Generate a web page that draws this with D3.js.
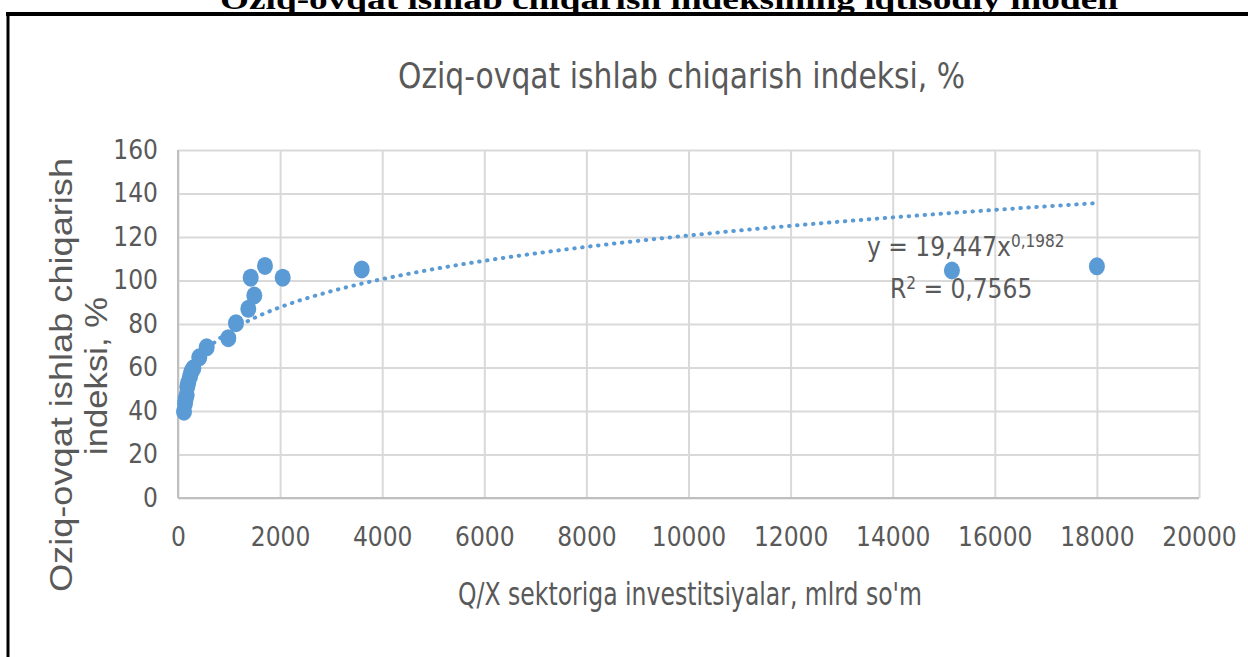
<!DOCTYPE html>
<html>
<head>
<meta charset="utf-8">
<script src="https://cdn.jsdelivr.net/npm/d3@7"></script>
<style>
  body { margin: 0; background: #fff; }
  text { font-family: "Liberation Sans Narrow", "DejaVu Sans Condensed", "Liberation Sans", sans-serif; fill: #595959; }
</style>
</head>
<body>
<div id="chart"></div>
<script>
// Data
const investments = [118, 137, 150, 170, 182, 200, 235, 260, 300, 417, 562, 985, 1136, 1377, 1495, 1424, 1704, 2051, 3598, 15160, 18000];
const foodIndex = [39.7, 43.5, 45.5, 47.4, 51.2, 53, 55.8, 58, 59.6, 64.7, 69.3, 73.5, 80.4, 87.0, 93.1, 101.3, 106.7, 101.3, 105.1, 104.6, 106.5];
const xTicks = [0, 2000, 4000, 6000, 8000, 10000, 12000, 14000, 16000, 18000, 20000];
const yTicks = [0, 20, 40, 60, 80, 100, 120, 140, 160];
// power trendline y = a * x^b
const trendA = 19.447;
const trendB = 0.1982;
const trendR2 = "0,7565";

const points = investments.map((x, i) => ({ x: x, y: foodIndex[i] }));

const svg = d3.select("#chart")
  .append("svg")
  .attr("width", 1248)
  .attr("height", 657);

const margin = { top: 150, left: 178, right: 49, bottom: 159 };
const width = 1248 - margin.left - margin.right;
const height = 657 - margin.top - margin.bottom;

// page header (cut off at the top) and black frame
svg.append("text")
  .attr("x", 220)
  .attr("y", 9)
  .attr("textLength", 898)
  .attr("lengthAdjust", "spacingAndGlyphs")
  .style("font-family", "'Liberation Serif', serif")
  .style("font-weight", "bold")
  .style("font-size", "30px")
  .style("fill", "#000")
  .text("Oziq-ovqat ishlab chiqarish indeksining iqtisodiy modeli");

svg.append("line")
  .attr("x1", 6).attr("x2", 1248)
  .attr("y1", 14).attr("y2", 14)
  .attr("stroke", "#000").attr("stroke-width", 4);
svg.append("line")
  .attr("x1", 8).attr("x2", 8)
  .attr("y1", 12).attr("y2", 657)
  .attr("stroke", "#000").attr("stroke-width", 3);

const chart = svg.append("g").attr("transform", `translate(${margin.left},${margin.top})`);

const xScale = d3.scaleLinear().domain([0, 20000]).range([0, width]);
const yScale = d3.scaleLinear().domain([0, 160]).range([height, 0]);

// gridlines
chart.append("g")
  .attr("class", "grid-y")
  .call(d3.axisLeft(yScale).tickValues(yTicks).tickSize(-width).tickFormat(""))
  .call(g => g.select(".domain").remove())
  .call(g => g.selectAll("line").attr("stroke", "#d9d9d9").attr("stroke-width", 2));
chart.append("g")
  .attr("class", "grid-x")
  .attr("transform", `translate(0,${height})`)
  .call(d3.axisBottom(xScale).tickValues(xTicks).tickSize(-height).tickFormat(""))
  .call(g => g.select(".domain").remove())
  .call(g => g.selectAll("line").attr("stroke", "#d9d9d9").attr("stroke-width", 2));

// axis lines
chart.append("line")
  .attr("x1", 0).attr("x2", width)
  .attr("y1", height).attr("y2", height)
  .attr("stroke", "#bfbfbf").attr("stroke-width", 2);
chart.append("line")
  .attr("x1", 0).attr("x2", 0)
  .attr("y1", 0).attr("y2", height)
  .attr("stroke", "#bfbfbf").attr("stroke-width", 2);

// tick labels
chart.append("g")
  .attr("class", "y-axis")
  .call(d3.axisLeft(yScale).tickValues(yTicks).tickSize(0).tickPadding(20).tickFormat(d3.format("d")))
  .call(g => g.select(".domain").remove())
  .call(g => g.selectAll("text").style("font-size", "26px").style("fill", "#595959"));
chart.append("g")
  .attr("class", "x-axis")
  .attr("transform", `translate(0,${height})`)
  .call(d3.axisBottom(xScale).tickValues(xTicks).tickSize(0).tickPadding(30).tickFormat(d3.format("d")))
  .call(g => g.select(".domain").remove())
  .call(g => g.selectAll("text").style("font-size", "26px").style("fill", "#595959"));

// trendline
const trendData = d3.range(0, 201).map(i => {
  const x = investments[0] + (18000 - investments[0]) * Math.pow(i / 200, 2);
  return { x: x, y: trendA * Math.pow(x, trendB) };
});
const line = d3.line()
  .x(d => xScale(d.x))
  .y(d => yScale(d.y));
chart.append("path")
  .datum(trendData)
  .attr("d", line)
  .attr("fill", "none")
  .attr("stroke", "#5b9bd5")
  .attr("stroke-width", 4)
  .attr("stroke-linecap", "round")
  .attr("stroke-dasharray", "0.5 7.5");

// points
chart.selectAll(".dot")
  .data(points)
  .enter()
  .append("ellipse")
  .attr("class", "dot")
  .attr("cx", d => xScale(d.x))
  .attr("cy", d => yScale(d.y))
  .attr("rx", 8)
  .attr("ry", 9)
  .attr("fill", "#5b9bd5");

// trendline equation
const eq = svg.append("text")
  .attr("x", 867)
  .attr("y", 256)
  .style("font-size", "26px");
eq.append("tspan").text("y = 19,447x");
eq.append("tspan").attr("dy", -9).style("font-size", "17px").text("0,1982");
const r2 = svg.append("text")
  .attr("x", 890)
  .attr("y", 298)
  .style("font-size", "26px");
r2.append("tspan").text("R");
r2.append("tspan").attr("dy", -9).style("font-size", "17px").text("2");
r2.append("tspan").attr("dy", 9).text(" = " + trendR2);

// chart title
svg.append("text")
  .attr("x", 398)
  .attr("y", 88)
  .attr("textLength", 567)
  .attr("lengthAdjust", "spacingAndGlyphs")
  .style("font-size", "35px")
  .text("Oziq-ovqat ishlab chiqarish indeksi, %");

// x axis title
svg.append("text")
  .attr("x", 458)
  .attr("y", 605)
  .attr("textLength", 464)
  .attr("lengthAdjust", "spacingAndGlyphs")
  .style("font-size", "32px")
  .text("Q/X sektoriga investitsiyalar, mlrd so'm");

// y axis title, two lines
svg.append("text")
  .attr("transform", "translate(72,375) rotate(-90)")
  .attr("text-anchor", "middle")
  .attr("textLength", 434)
  .attr("lengthAdjust", "spacingAndGlyphs")
  .style("font-family", "'Liberation Sans', sans-serif")
  .style("font-size", "32px")
  .text("Oziq-ovqat ishlab chiqarish");
svg.append("text")
  .attr("transform", "translate(107,376) rotate(-90)")
  .attr("text-anchor", "middle")
  .attr("textLength", 158)
  .attr("lengthAdjust", "spacingAndGlyphs")
  .style("font-family", "'Liberation Sans', sans-serif")
  .style("font-size", "32px")
  .text("indeksi, %");
</script>
</body>
</html>
